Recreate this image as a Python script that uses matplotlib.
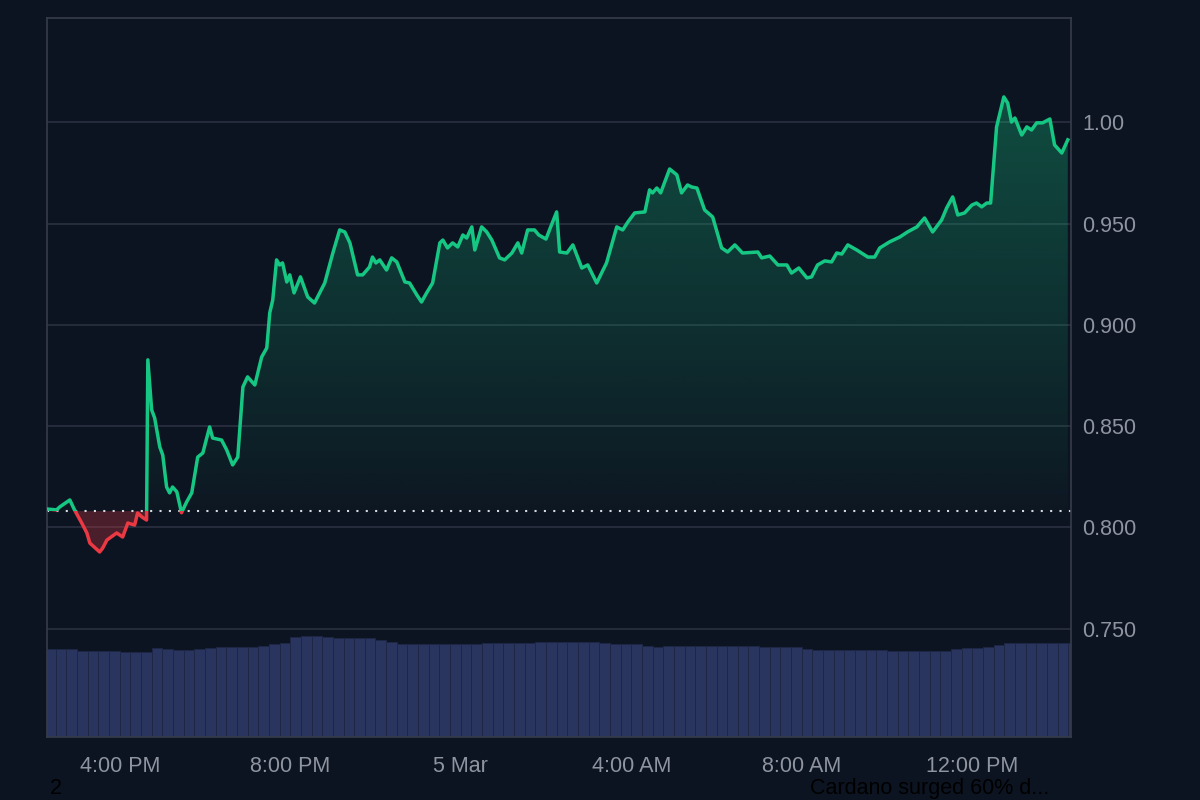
import numpy as np
import matplotlib.pyplot as plt
from matplotlib.patches import Rectangle
from matplotlib.path import Path
from matplotlib.colors import LinearSegmentedColormap

plt.rcParams['font.family'] = ['Liberation Sans', 'DejaVu Sans']

# time in hours since 00:00 on 4 Mar, price in USD
hours = [14.31, 14.52, 14.59, 14.83, 14.94, 15.11, 15.23, 15.30, 15.53, 15.60,
         15.70, 15.93, 16.07, 16.19, 16.35, 16.42, 16.52, 16.63, 16.66, 16.75,
         16.82, 16.94, 17.01, 17.10, 17.17, 17.24, 17.34, 17.45, 17.57, 17.69,
         17.83, 17.95, 18.11, 18.18, 18.39, 18.51, 18.65, 18.77, 18.89, 19.00,
         19.17, 19.33, 19.45, 19.52, 19.59, 19.68, 19.75, 19.82, 19.92, 19.99,
         20.09, 20.24, 20.41, 20.57, 20.81, 21.00, 21.16, 21.28, 21.40, 21.58,
         21.70, 21.86, 21.93, 22.01, 22.10, 22.26, 22.38, 22.50, 22.69, 22.80,
         22.97, 23.08, 23.20, 23.34, 23.51, 23.58, 23.69, 23.81, 23.93, 24.05,
         24.14, 24.26, 24.33, 24.49, 24.61, 24.73, 24.91, 25.03, 25.20, 25.34,
         25.43, 25.57, 25.73, 25.83, 26.00, 26.11, 26.25, 26.32, 26.49, 26.63,
         26.84, 26.98, 27.19, 27.42, 27.66, 27.80, 27.92, 28.08, 28.32, 28.43,
         28.50, 28.60, 28.69, 28.90, 29.07, 29.18, 29.32, 29.42, 29.54, 29.72,
         29.91, 30.12, 30.26, 30.43, 30.61, 30.97, 31.06, 31.25, 31.44, 31.65,
         31.76, 31.93, 32.12, 32.23, 32.37, 32.54, 32.70, 32.82, 32.94, 33.08,
         33.29, 33.55, 33.71, 33.83, 34.06, 34.30, 34.48, 34.70, 34.88, 35.07,
         35.28, 35.40, 35.54, 35.66, 35.82, 35.99, 36.10, 36.22, 36.34, 36.43,
         36.57, 36.74, 36.83, 36.92, 37.00, 37.16, 37.28, 37.39, 37.51, 37.65,
         37.82, 37.93, 38.10, 38.24]
price = [0.8090, 0.8086, 0.8100, 0.8135, 0.8086, 0.8021, 0.7972, 0.7922, 0.7878, 0.7897,
         0.7937, 0.7972, 0.7952, 0.8021, 0.8011, 0.8071, 0.8051, 0.8036, 0.8827, 0.8580,
         0.8540, 0.8397, 0.8357, 0.8199, 0.8170, 0.8199, 0.8175, 0.8072, 0.8125, 0.8170,
         0.8347, 0.8367, 0.8496, 0.8441, 0.8431, 0.8382, 0.8308, 0.8347, 0.8693, 0.8743,
         0.8703, 0.8841, 0.8886, 0.9059, 0.9123, 0.9321, 0.9296, 0.9306, 0.9212, 0.9247,
         0.9158, 0.9237, 0.9138, 0.9108, 0.9207, 0.9355, 0.9469, 0.9459, 0.9405, 0.9247,
         0.9247, 0.9286, 0.9335, 0.9306, 0.9321, 0.9271, 0.9331, 0.9311, 0.9212, 0.9207,
         0.9148, 0.9113, 0.9158, 0.9207, 0.9405, 0.9419, 0.9380, 0.9405, 0.9385, 0.9444,
         0.9429, 0.9484, 0.9370, 0.9484, 0.9459, 0.9419, 0.9331, 0.9321, 0.9355, 0.9405,
         0.9355, 0.9469, 0.9469, 0.9444, 0.9424, 0.9484, 0.9558, 0.9360, 0.9355, 0.9395,
         0.9281, 0.9296, 0.9207, 0.9306, 0.9484, 0.9469, 0.9508, 0.9553, 0.9558, 0.9667,
         0.9652, 0.9676, 0.9652, 0.9770, 0.9741, 0.9652, 0.9691, 0.9681, 0.9676, 0.9568,
         0.9533, 0.9380, 0.9360, 0.9395, 0.9355, 0.9360, 0.9331, 0.9340, 0.9296, 0.9296,
         0.9256, 0.9281, 0.9232, 0.9237, 0.9296, 0.9316, 0.9311, 0.9355, 0.9350, 0.9395,
         0.9370, 0.9335, 0.9335, 0.9380, 0.9410, 0.9434, 0.9459, 0.9484, 0.9528, 0.9459,
         0.9518, 0.9578, 0.9632, 0.9543, 0.9553, 0.9592, 0.9602, 0.9583, 0.9602, 0.9602,
         0.9978, 1.0126, 1.0096, 1.0002, 1.0022, 0.9938, 0.9978, 0.9963, 0.9998, 0.9998,
         1.0017, 0.9889, 0.9849, 0.9914]
open_price = 0.808

# 24h volume, 15 min buckets starting 14:15 (relative units)
vol_start = 14.25
vol_step = 0.25
volume = [88, 88, 88, 86, 86, 86, 86, 85, 85, 85, 89, 88, 87, 87, 88, 89, 90, 90, 90, 90,
          91, 93, 94, 100, 101, 101, 100, 99, 99, 99, 99, 97, 95, 93, 93, 93, 93, 93, 93, 93,
          93, 94, 94, 94, 94, 94, 95, 95, 95, 95, 95, 95, 94, 93, 93, 93, 91, 90, 91, 91,
          91, 91, 91, 91, 91, 91, 91, 90, 90, 90, 90, 88, 87, 87, 87, 87, 87, 87, 87, 86,
          86, 86, 86, 86, 86, 88, 89, 89, 90, 92, 94, 94, 94, 94, 94, 94, 94]

x_ticks = [16, 20, 24, 28, 32, 36]
x_labels = ['4:00 PM', '8:00 PM', '5 Mar', '4:00 AM', '8:00 AM', '12:00 PM']
y_ticks = [0.75, 0.80, 0.85, 0.90, 0.95, 1.00]
y_labels = ['0.750', '0.800', '0.850', '0.900', '0.950', '1.00']

bg = '#0d1421'
green = '#16c784'
red = '#ea3943'
grid_c = '#2a3040'
spine_c = '#363c4a'
text_c = '#8e94a0'

t = np.array(hours)
p = np.array(price)
xmin, xmax = 14.29, 38.31
ymin, ymax = 0.6964, 1.0516

fig = plt.figure(figsize=(12, 8), dpi=100, facecolor=bg)
pos = [0.039, 0.07875, 0.8533, 0.89875]

# volume bars in their own axes behind the price
axv = fig.add_axes(pos)
axv.set_facecolor(bg)
vol_t = vol_start + vol_step * np.arange(len(volume))
axv.bar(vol_t, volume, width=vol_step, align='edge', color='#29345f',
        edgecolor='#1e2745', linewidth=0.7)
axv.set_xlim(xmin, xmax)
axv.set_ylim(0, max(volume) * 719 / 101)
axv.axis('off')

ax = fig.add_axes(pos)
ax.patch.set_alpha(0)
ax.set_xlim(xmin, xmax)
ax.set_ylim(ymin, ymax)

for yt in y_ticks:
    ax.axhline(yt, color=grid_c, lw=1.2, zorder=0)

# green area with vertical gradient
poly = ax.fill_between(t, p, open_price, where=p >= open_price, interpolate=True,
                       facecolor='none', edgecolor='none')
clip = Path.make_compound_path(*poly.get_paths())
cmap = LinearSegmentedColormap.from_list('g', [(22/255, 199/255, 132/255, 0.02),
                                               (22/255, 199/255, 132/255, 0.38)])
grad = np.linspace(0, 1, 256).reshape(-1, 1)
im = ax.imshow(grad, cmap=cmap, aspect='auto', origin='lower',
               extent=[xmin, xmax, open_price, ymax], zorder=1)
im.set_clip_path(clip, transform=ax.transData)

ax.fill_between(t, p, open_price, where=p <= open_price, interpolate=True,
                facecolor=red, alpha=0.28, edgecolor='none', zorder=1)

ax.axhline(open_price, color='#d5d9e0', lw=1.5, ls=(0, (1, 3.5)), zorder=2)

up = ax.plot(t, p, color=green, lw=2.5, zorder=3, solid_joinstyle='round')[0]
dn = ax.plot(t, p, color=red, lw=2.5, zorder=3, solid_joinstyle='round')[0]
up.set_clip_path(Rectangle((xmin, open_price), xmax - xmin, 1, transform=ax.transData))
dn.set_clip_path(Rectangle((xmin, ymin), xmax - xmin, open_price - ymin, transform=ax.transData))

ax.set_xticks(x_ticks)
ax.set_xticklabels(x_labels)
ax.yaxis.tick_right()
ax.set_yticks(y_ticks)
ax.set_yticklabels(y_labels)
ax.tick_params(axis='both', length=0, labelsize=15.5, labelcolor=text_c)
ax.tick_params(axis='y', pad=8.5)
ax.tick_params(axis='x', pad=14)
for s in ax.spines.values():
    s.set_color(spine_c)
    s.set_linewidth(1.2)

fig.text(50 / 1200, 1 / 800, '2', color='#000000', fontsize=15.5, va='bottom')
fig.text(810 / 1200, 1 / 800, 'Cardano surged 60% d...', color='#000000',
         fontsize=15.5, va='bottom')

fig.savefig('out.png', dpi=100, facecolor=bg)
